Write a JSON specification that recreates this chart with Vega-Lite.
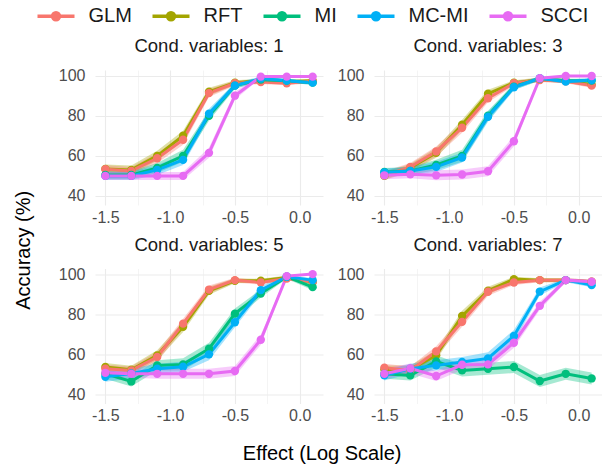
{
"$schema": "https://vega.github.io/schema/vega-lite/v6.json",
"padding": {"left": 14, "top": 4, "right": 0, "bottom": 0},
"data": {"values": [
{"c":1,"m":"RFT","x":-1.5,"y":53.5,"lo":51.3,"hi":55.7},{"c":1,"m":"RFT","x":-1.3,"y":53,"lo":50.8,"hi":55.2},{"c":1,"m":"RFT","x":-1.1,"y":60,"lo":57.5,"hi":62.5},{"c":1,"m":"RFT","x":-0.9,"y":70,"lo":67.5,"hi":72.5},{"c":1,"m":"RFT","x":-0.7,"y":92,"lo":90,"hi":94},{"c":1,"m":"RFT","x":-0.5,"y":96.5,"lo":95.3,"hi":97.7},{"c":1,"m":"RFT","x":-0.3,"y":97.5,"lo":96.5,"hi":98.5},{"c":1,"m":"RFT","x":-0.1,"y":97,"lo":96,"hi":98},{"c":1,"m":"RFT","x":0.1,"y":97.5,"lo":96.5,"hi":98.5},
{"c":1,"m":"GLM","x":-1.5,"y":53.3,"lo":51.3,"hi":55.3},{"c":1,"m":"GLM","x":-1.3,"y":52.5,"lo":50.5,"hi":54.5},{"c":1,"m":"GLM","x":-1.1,"y":58.8,"lo":56.3,"hi":61.3},{"c":1,"m":"GLM","x":-0.9,"y":68,"lo":65.5,"hi":70.5},{"c":1,"m":"GLM","x":-0.7,"y":91.3,"lo":89.3,"hi":93.3},{"c":1,"m":"GLM","x":-0.5,"y":96.2,"lo":95,"hi":97.4},{"c":1,"m":"GLM","x":-0.3,"y":96.8,"lo":95.8,"hi":97.8},{"c":1,"m":"GLM","x":-0.1,"y":96.2,"lo":95.2,"hi":97.2},{"c":1,"m":"GLM","x":0.1,"y":97.3,"lo":96.3,"hi":98.3},
{"c":1,"m":"MI","x":-1.5,"y":50.5,"lo":48.5,"hi":52.5},{"c":1,"m":"MI","x":-1.3,"y":50.5,"lo":48.5,"hi":52.5},{"c":1,"m":"MI","x":-1.1,"y":54,"lo":51.5,"hi":56.5},{"c":1,"m":"MI","x":-0.9,"y":60,"lo":57,"hi":63},{"c":1,"m":"MI","x":-0.7,"y":80,"lo":77.5,"hi":82.5},{"c":1,"m":"MI","x":-0.5,"y":95,"lo":93.5,"hi":96.5},{"c":1,"m":"MI","x":-0.3,"y":98,"lo":97,"hi":99},{"c":1,"m":"MI","x":-0.1,"y":97.5,"lo":96.5,"hi":98.5},{"c":1,"m":"MI","x":0.1,"y":96.5,"lo":95.5,"hi":97.5},
{"c":1,"m":"MC-MI","x":-1.5,"y":50,"lo":48,"hi":52},{"c":1,"m":"MC-MI","x":-1.3,"y":50,"lo":48,"hi":52},{"c":1,"m":"MC-MI","x":-1.1,"y":53,"lo":50.5,"hi":55.5},{"c":1,"m":"MC-MI","x":-0.9,"y":58,"lo":55.5,"hi":60.5},{"c":1,"m":"MC-MI","x":-0.7,"y":81,"lo":78.5,"hi":83.5},{"c":1,"m":"MC-MI","x":-0.5,"y":95,"lo":93.5,"hi":96.5},{"c":1,"m":"MC-MI","x":-0.3,"y":98.5,"lo":97.5,"hi":99.5},{"c":1,"m":"MC-MI","x":-0.1,"y":97.5,"lo":96.5,"hi":98.5},{"c":1,"m":"MC-MI","x":0.1,"y":96.5,"lo":95.5,"hi":97.5},
{"c":1,"m":"SCCI","x":-1.5,"y":50,"lo":48,"hi":52},{"c":1,"m":"SCCI","x":-1.3,"y":50,"lo":48,"hi":52},{"c":1,"m":"SCCI","x":-1.1,"y":50,"lo":48,"hi":52},{"c":1,"m":"SCCI","x":-0.9,"y":50,"lo":48,"hi":52},{"c":1,"m":"SCCI","x":-0.7,"y":61.5,"lo":59,"hi":64},{"c":1,"m":"SCCI","x":-0.5,"y":90,"lo":88,"hi":92},{"c":1,"m":"SCCI","x":-0.3,"y":99.5,"lo":99,"hi":100},{"c":1,"m":"SCCI","x":-0.1,"y":99.5,"lo":99,"hi":100},{"c":1,"m":"SCCI","x":0.1,"y":99.5,"lo":99,"hi":100},
{"c":3,"m":"RFT","x":-1.5,"y":50,"lo":48,"hi":52},{"c":3,"m":"RFT","x":-1.3,"y":54,"lo":52,"hi":56},{"c":3,"m":"RFT","x":-1.1,"y":61.5,"lo":59,"hi":64},{"c":3,"m":"RFT","x":-0.9,"y":75.5,"lo":73,"hi":78},{"c":3,"m":"RFT","x":-0.7,"y":91,"lo":89,"hi":93},{"c":3,"m":"RFT","x":-0.5,"y":96.5,"lo":95.3,"hi":97.7},{"c":3,"m":"RFT","x":-0.3,"y":98,"lo":97,"hi":99},{"c":3,"m":"RFT","x":-0.1,"y":97.5,"lo":96.5,"hi":98.5},{"c":3,"m":"RFT","x":0.1,"y":95.5,"lo":94.5,"hi":96.5},
{"c":3,"m":"GLM","x":-1.5,"y":50.3,"lo":48.3,"hi":52.3},{"c":3,"m":"GLM","x":-1.3,"y":54.5,"lo":52.5,"hi":56.5},{"c":3,"m":"GLM","x":-1.1,"y":62.2,"lo":59.7,"hi":64.7},{"c":3,"m":"GLM","x":-0.9,"y":74,"lo":71.5,"hi":76.5},{"c":3,"m":"GLM","x":-0.7,"y":88.7,"lo":86.7,"hi":90.7},{"c":3,"m":"GLM","x":-0.5,"y":96.2,"lo":95,"hi":97.4},{"c":3,"m":"GLM","x":-0.3,"y":97.8,"lo":96.8,"hi":98.8},{"c":3,"m":"GLM","x":-0.1,"y":97.2,"lo":96.2,"hi":98.2},{"c":3,"m":"GLM","x":0.1,"y":95,"lo":94,"hi":96},
{"c":3,"m":"MI","x":-1.5,"y":52,"lo":50,"hi":54},{"c":3,"m":"MI","x":-1.3,"y":52.5,"lo":50.5,"hi":54.5},{"c":3,"m":"MI","x":-1.1,"y":55.5,"lo":53,"hi":58},{"c":3,"m":"MI","x":-0.9,"y":60,"lo":57,"hi":63},{"c":3,"m":"MI","x":-0.7,"y":80,"lo":77.5,"hi":82.5},{"c":3,"m":"MI","x":-0.5,"y":94.5,"lo":93,"hi":96},{"c":3,"m":"MI","x":-0.3,"y":98.5,"lo":97.5,"hi":99.5},{"c":3,"m":"MI","x":-0.1,"y":97.5,"lo":96.5,"hi":98.5},{"c":3,"m":"MI","x":0.1,"y":97.5,"lo":96.5,"hi":98.5},
{"c":3,"m":"MC-MI","x":-1.5,"y":51.7,"lo":49.7,"hi":53.7},{"c":3,"m":"MC-MI","x":-1.3,"y":52.5,"lo":50.5,"hi":54.5},{"c":3,"m":"MC-MI","x":-1.1,"y":54.5,"lo":52,"hi":57},{"c":3,"m":"MC-MI","x":-0.9,"y":59.2,"lo":56.7,"hi":61.7},{"c":3,"m":"MC-MI","x":-0.7,"y":79.5,"lo":77,"hi":82},{"c":3,"m":"MC-MI","x":-0.5,"y":94.2,"lo":92.7,"hi":95.7},{"c":3,"m":"MC-MI","x":-0.3,"y":98.7,"lo":97.7,"hi":99.7},{"c":3,"m":"MC-MI","x":-0.1,"y":97,"lo":96,"hi":98},{"c":3,"m":"MC-MI","x":0.1,"y":97.8,"lo":96.8,"hi":98.8},
{"c":3,"m":"SCCI","x":-1.5,"y":50.3,"lo":48.3,"hi":52.3},{"c":3,"m":"SCCI","x":-1.3,"y":50.8,"lo":48.8,"hi":52.8},{"c":3,"m":"SCCI","x":-1.1,"y":50.3,"lo":47.8,"hi":52.8},{"c":3,"m":"SCCI","x":-0.9,"y":50.7,"lo":48.2,"hi":53.2},{"c":3,"m":"SCCI","x":-0.7,"y":52.3,"lo":49.8,"hi":54.8},{"c":3,"m":"SCCI","x":-0.5,"y":67.3,"lo":64.8,"hi":69.8},{"c":3,"m":"SCCI","x":-0.3,"y":98.7,"lo":98,"hi":99.4},{"c":3,"m":"SCCI","x":-0.1,"y":99.8,"lo":99.5,"hi":100},{"c":3,"m":"SCCI","x":0.1,"y":99.8,"lo":99.5,"hi":100},
{"c":5,"m":"RFT","x":-1.5,"y":53.7,"lo":51.7,"hi":55.7},{"c":5,"m":"RFT","x":-1.3,"y":52.3,"lo":50.3,"hi":54.3},{"c":5,"m":"RFT","x":-1.1,"y":59.5,"lo":57,"hi":62},{"c":5,"m":"RFT","x":-0.9,"y":73.7,"lo":71.2,"hi":76.2},{"c":5,"m":"RFT","x":-0.7,"y":91.7,"lo":89.7,"hi":93.7},{"c":5,"m":"RFT","x":-0.5,"y":96.7,"lo":95.5,"hi":97.9},{"c":5,"m":"RFT","x":-0.3,"y":96.7,"lo":95.7,"hi":97.7},{"c":5,"m":"RFT","x":-0.1,"y":98.3,"lo":97.3,"hi":99.3},{"c":5,"m":"RFT","x":0.1,"y":96,"lo":95,"hi":97},
{"c":5,"m":"GLM","x":-1.5,"y":52.8,"lo":50.8,"hi":54.8},{"c":5,"m":"GLM","x":-1.3,"y":52,"lo":50,"hi":54},{"c":5,"m":"GLM","x":-1.1,"y":58.7,"lo":56.2,"hi":61.2},{"c":5,"m":"GLM","x":-0.9,"y":75.3,"lo":72.8,"hi":77.8},{"c":5,"m":"GLM","x":-0.7,"y":92.3,"lo":90.3,"hi":94.3},{"c":5,"m":"GLM","x":-0.5,"y":97,"lo":95.8,"hi":98.2},{"c":5,"m":"GLM","x":-0.3,"y":95.8,"lo":94.8,"hi":96.8},{"c":5,"m":"GLM","x":-0.1,"y":97.8,"lo":96.8,"hi":98.8},{"c":5,"m":"GLM","x":0.1,"y":96.2,"lo":95.2,"hi":97.2},
{"c":5,"m":"MI","x":-1.5,"y":50.3,"lo":47.8,"hi":52.8},{"c":5,"m":"MI","x":-1.3,"y":46.5,"lo":44,"hi":49},{"c":5,"m":"MI","x":-1.1,"y":54.5,"lo":52,"hi":57},{"c":5,"m":"MI","x":-0.9,"y":55,"lo":52,"hi":58},{"c":5,"m":"MI","x":-0.7,"y":62.8,"lo":59.8,"hi":65.8},{"c":5,"m":"MI","x":-0.5,"y":80.3,"lo":77.8,"hi":82.8},{"c":5,"m":"MI","x":-0.3,"y":90.3,"lo":88.3,"hi":92.3},{"c":5,"m":"MI","x":-0.1,"y":98.7,"lo":97.7,"hi":99.7},{"c":5,"m":"MI","x":0.1,"y":93.5,"lo":92,"hi":95},
{"c":5,"m":"MC-MI","x":-1.5,"y":48.8,"lo":46.3,"hi":51.3},{"c":5,"m":"MC-MI","x":-1.3,"y":50.5,"lo":48,"hi":53},{"c":5,"m":"MC-MI","x":-1.1,"y":52.8,"lo":50.3,"hi":55.3},{"c":5,"m":"MC-MI","x":-0.9,"y":53.8,"lo":51.3,"hi":56.3},{"c":5,"m":"MC-MI","x":-0.7,"y":60,"lo":57,"hi":63},{"c":5,"m":"MC-MI","x":-0.5,"y":76,"lo":73.5,"hi":78.5},{"c":5,"m":"MC-MI","x":-0.3,"y":92,"lo":90,"hi":94},{"c":5,"m":"MC-MI","x":-0.1,"y":98.7,"lo":97.7,"hi":99.7},{"c":5,"m":"MC-MI","x":0.1,"y":97,"lo":96,"hi":98},
{"c":5,"m":"SCCI","x":-1.5,"y":50.8,"lo":48.8,"hi":52.8},{"c":5,"m":"SCCI","x":-1.3,"y":50.3,"lo":48.3,"hi":52.3},{"c":5,"m":"SCCI","x":-1.1,"y":50.3,"lo":47.8,"hi":52.8},{"c":5,"m":"SCCI","x":-0.9,"y":50.3,"lo":47.8,"hi":52.8},{"c":5,"m":"SCCI","x":-0.7,"y":50.3,"lo":47.8,"hi":52.8},{"c":5,"m":"SCCI","x":-0.5,"y":51.7,"lo":49.2,"hi":54.2},{"c":5,"m":"SCCI","x":-0.3,"y":67.3,"lo":64.8,"hi":69.8},{"c":5,"m":"SCCI","x":-0.1,"y":99,"lo":98.3,"hi":99.7},{"c":5,"m":"SCCI","x":0.1,"y":100,"lo":99.8,"hi":100},
{"c":7,"m":"RFT","x":-1.5,"y":52.5,"lo":50.5,"hi":54.5},{"c":7,"m":"RFT","x":-1.3,"y":52.5,"lo":50.5,"hi":54.5},{"c":7,"m":"RFT","x":-1.1,"y":59.5,"lo":57,"hi":62},{"c":7,"m":"RFT","x":-0.9,"y":79.2,"lo":76.7,"hi":81.7},{"c":7,"m":"RFT","x":-0.7,"y":91.7,"lo":89.7,"hi":93.7},{"c":7,"m":"RFT","x":-0.5,"y":97.5,"lo":96.3,"hi":98.7},{"c":7,"m":"RFT","x":-0.3,"y":97,"lo":96,"hi":98},{"c":7,"m":"RFT","x":-0.1,"y":97,"lo":96,"hi":98},{"c":7,"m":"RFT","x":0.1,"y":96.2,"lo":95.2,"hi":97.2},
{"c":7,"m":"GLM","x":-1.5,"y":53.3,"lo":51.3,"hi":55.3},{"c":7,"m":"GLM","x":-1.3,"y":52,"lo":50,"hi":54},{"c":7,"m":"GLM","x":-1.1,"y":61.5,"lo":59,"hi":64},{"c":7,"m":"GLM","x":-0.9,"y":76.2,"lo":73.7,"hi":78.7},{"c":7,"m":"GLM","x":-0.7,"y":91.2,"lo":89.2,"hi":93.2},{"c":7,"m":"GLM","x":-0.5,"y":95.8,"lo":94.6,"hi":97},{"c":7,"m":"GLM","x":-0.3,"y":97,"lo":96,"hi":98},{"c":7,"m":"GLM","x":-0.1,"y":97,"lo":96,"hi":98},{"c":7,"m":"GLM","x":0.1,"y":96.2,"lo":95.2,"hi":97.2},
{"c":7,"m":"MI","x":-1.5,"y":50.3,"lo":47.8,"hi":52.8},{"c":7,"m":"MI","x":-1.3,"y":49.5,"lo":47,"hi":52},{"c":7,"m":"MI","x":-1.1,"y":56.5,"lo":53.5,"hi":59.5},{"c":7,"m":"MI","x":-0.9,"y":52,"lo":49,"hi":55},{"c":7,"m":"MI","x":-0.7,"y":52.8,"lo":49.8,"hi":55.8},{"c":7,"m":"MI","x":-0.5,"y":53.7,"lo":50.7,"hi":56.7},{"c":7,"m":"MI","x":-0.3,"y":46.7,"lo":43.7,"hi":49.7},{"c":7,"m":"MI","x":-0.1,"y":50.3,"lo":47.3,"hi":53.3},{"c":7,"m":"MI","x":0.1,"y":48,"lo":45,"hi":51},
{"c":7,"m":"MC-MI","x":-1.5,"y":49.5,"lo":47,"hi":52},{"c":7,"m":"MC-MI","x":-1.3,"y":52.8,"lo":50.3,"hi":55.3},{"c":7,"m":"MC-MI","x":-1.1,"y":54.5,"lo":52,"hi":57},{"c":7,"m":"MC-MI","x":-0.9,"y":56.2,"lo":53.7,"hi":58.7},{"c":7,"m":"MC-MI","x":-0.7,"y":58,"lo":55,"hi":61},{"c":7,"m":"MC-MI","x":-0.5,"y":69.2,"lo":66.2,"hi":72.2},{"c":7,"m":"MC-MI","x":-0.3,"y":91.3,"lo":89.3,"hi":93.3},{"c":7,"m":"MC-MI","x":-0.1,"y":97,"lo":96,"hi":98},{"c":7,"m":"MC-MI","x":0.1,"y":94.5,"lo":93.5,"hi":95.5},
{"c":7,"m":"SCCI","x":-1.5,"y":50.3,"lo":47.8,"hi":52.8},{"c":7,"m":"SCCI","x":-1.3,"y":53,"lo":50.5,"hi":55.5},{"c":7,"m":"SCCI","x":-1.1,"y":49.2,"lo":46.7,"hi":51.7},{"c":7,"m":"SCCI","x":-0.9,"y":54.8,"lo":52.3,"hi":57.3},{"c":7,"m":"SCCI","x":-0.7,"y":55,"lo":52.5,"hi":57.5},{"c":7,"m":"SCCI","x":-0.5,"y":65.8,"lo":63.3,"hi":68.3},{"c":7,"m":"SCCI","x":-0.3,"y":84.2,"lo":82.2,"hi":86.2},{"c":7,"m":"SCCI","x":-0.1,"y":97,"lo":96,"hi":98},{"c":7,"m":"SCCI","x":0.1,"y":96.2,"lo":95.2,"hi":97.2}
]},
"vconcat": [{
 "title": {"text": "Accuracy (%)", "orient": "left", "anchor": "middle", "fontSize": 20, "fontWeight": "normal", "color": "#000000", "font": "Liberation Sans", "offset": 24},
 "vconcat": [{
  "title": {"text": "Effect (Log Scale)", "orient": "bottom", "anchor": "middle", "fontSize": 20, "fontWeight": "normal", "color": "#000000", "font": "Liberation Sans", "offset": 20, "dx": -8},
  "facet": {"field": "c", "type": "ordinal", "header": {"title": null, "labelExpr": "'Cond. variables: ' + datum.value", "labelFontSize": 18.5, "labelColor": "#1a1a1a", "labelFont": "Liberation Sans", "labelPadding": 12}},
  "columns": 2,
  "spacing": {"row": 10.5, "column": 14},
  "resolve": {"axis": {"x": "independent", "y": "independent"}},
  "spec": {
    "width": 228,
    "height": 135,
    "encoding": {
      "x": {"field": "x", "type": "quantitative", "scale": {"domain": [-1.58, 0.18], "nice": false, "zero": false},
        "axis": {"title": null, "values": [-1.5, -1.25, -1, -0.75, -0.5, -0.25, 0],
          "labelExpr": "abs(datum.value*2-round(datum.value*2))<0.001 ? (datum.value<0 ? '-' : '') + format(abs(datum.value), '.1f') : ''",
          "gridWidth": {"condition": {"test": "abs(datum.value*2-round(datum.value*2))<0.001", "value": 1.1}, "value": 0.55},
          "labelPadding": 4, "labelFlush": false, "labelOverlap": false}},
      "color": {"field": "m", "type": "nominal",
        "scale": {"domain": ["GLM", "RFT", "MI", "MC-MI", "SCCI"], "range": ["#F8766D", "#A3A500", "#00BF7D", "#00B0F6", "#E76BF3"]},
        "legend": {"title": null, "orient": "none", "legendX": -51, "legendY": -66, "direction": "horizontal",
          "symbolType": "M-1.85,0L1.85,0M-0.35,0A0.35,0.35,0,1,1,0.35,0A0.35,0.35,0,1,1,-0.35,0Z",
          "symbolSize": 400, "symbolStrokeWidth": 3.5, "labelFontSize": 20, "labelColor": "#1a1a1a", "labelFont": "Liberation Sans",
          "labelOffset": 20.5, "columnPadding": 13,
          "encode": {"symbols": {"update": {"fill": {"scale": "color", "field": "value"}, "stroke": {"scale": "color", "field": "value"}, "opacity": {"value": 1}, "fillOpacity": {"value": 1}, "strokeOpacity": {"value": 1}}}}}}
    },
    "layer": [
      {"mark": {"type": "area", "opacity": 0.35},
       "encoding": {"y": {"field": "lo", "type": "quantitative", "title": null, "scale": {"domain": [35.5, 102.8], "nice": false, "zero": false},
          "axis": {"title": null, "values": [40, 50, 60, 70, 80, 90, 100], "labelExpr": "datum.value % 20 == 0 ? datum.value : ''",
            "gridWidth": {"condition": {"test": "datum.value % 20 == 0", "value": 1.1}, "value": 0.55}, "labelPadding": 10}},
         "y2": {"field": "hi"}}},
      {"mark": {"type": "line", "strokeWidth": 3},
       "encoding": {"y": {"field": "y", "type": "quantitative", "title": null,
          "axis": {"title": null, "values": [40, 50, 60, 70, 80, 90, 100], "labelExpr": "datum.value % 20 == 0 ? datum.value : ''",
            "gridWidth": {"condition": {"test": "datum.value % 20 == 0", "value": 1.1}, "value": 0.55}, "labelPadding": 10}}}},
      {"mark": {"type": "point", "filled": true, "size": 70, "opacity": 1},
       "encoding": {"y": {"field": "y", "type": "quantitative", "title": null}}}
    ]
  }
 }]
}],
"config": {
  "font": "Liberation Sans",
  "view": {"stroke": null},
  "axis": {"domain": false, "ticks": false, "grid": true, "gridColor": "#ebebeb", "labelColor": "#4d4d4d", "labelFontSize": 16, "labelFont": "Liberation Sans"}
}
}
